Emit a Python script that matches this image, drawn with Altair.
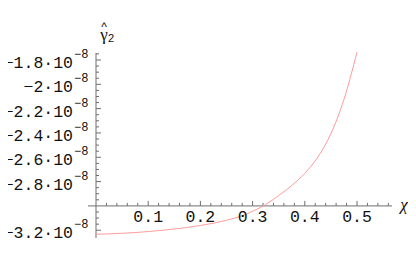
import altair as alt
import pandas as pd

# ---- data (gamma2 values in units of 1e-8) ----
CHI = [0.000, 0.025, 0.050, 0.075, 0.100, 0.125, 0.150, 0.175, 0.200, 0.225,
       0.250, 0.275, 0.300, 0.325, 0.350, 0.375, 0.400, 0.425, 0.450, 0.475, 0.500]
GAMMA2_E8 = [-3.233, -3.230, -3.225, -3.219, -3.211, -3.201, -3.190, -3.177, -3.161, -3.142,
             -3.118, -3.088, -3.045, -2.988, -2.915, -2.832, -2.732, -2.598, -2.405, -2.125, -1.735]

X_TICKS = [0.1, 0.2, 0.3, 0.4, 0.5]
X_TICK_LABELS = ["0.1", "0.2", "0.3", "0.4", "0.5"]
Y_TICKS_E8 = [-3.2, -2.8, -2.6, -2.4, -2.2, -2.0, -1.8]
Y_TICK_LABELS = ["−3.2·10", "−2.8·10", "−2.6·10", "−2.4·10", "−2.2·10", "−2·10", "−1.8·10"]
Y_EXPONENT = "−8"
X_MINOR = [round(0.02 * i, 2) for i in range(1, 29)]
Y_MINOR = [round(-3.2 + 0.05 * i, 2) for i in range(0, 30)]

X_CROSS = 0.0     # y axis at chi = 0
Y_CROSS = -3.0    # x axis at gamma2 = -3e-8

# ---- scales ----
PX_X = 522.0      # pixels per unit chi
PX_Y = 121.6      # pixels per 1e-8
W, H = 400, 241
X0_PIX = 88.0
Y18_PIX = 52.0
xdom = [-X0_PIX / PX_X, (W - X0_PIX) / PX_X]
ydom = [-1.8 - (H - Y18_PIX) / PX_Y, -1.8 + Y18_PIX / PX_Y]
xs = alt.Scale(domain=xdom, nice=False, zero=False)
ys = alt.Scale(domain=ydom, nice=False, zero=False)

AX = "#6e6e6e"
MONO = "Liberation Mono"

def X(f):
    return alt.X(f, type="quantitative", scale=xs, axis=None)

def Y(f):
    return alt.Y(f, type="quantitative", scale=ys, axis=None)

# curve
curve_df = pd.DataFrame({"chi": CHI, "g": GAMMA2_E8})
curve = alt.Chart(curve_df).mark_line(color="#ff9c9c", strokeWidth=1, interpolate="monotone").encode(
    x=X("chi"), y=Y("g"))

# axes lines
y_top = -1.8 + (Y18_PIX - 45) / PX_Y
y_bot = -1.8 - (230 - Y18_PIX) / PX_Y
x_left = -8 / PX_X
x_right = (384 - X0_PIX) / PX_X
axes_df = pd.DataFrame({
    "x1": [X_CROSS, x_left], "x2": [X_CROSS, x_right],
    "y1": [y_bot, Y_CROSS], "y2": [y_top, Y_CROSS]})
axes = alt.Chart(axes_df).mark_rule(color=AX, strokeWidth=1).encode(
    x=X("x1"), x2="x2", y=Y("y1"), y2="y2")

# ticks
rows = []
for v in Y_TICKS_E8:
    rows.append({"x1": X_CROSS, "x2": X_CROSS + 5 / PX_X, "y1": v, "y2": v})
for v in Y_MINOR:
    if all(abs(v - m) > 1e-6 for m in Y_TICKS_E8 + [Y_CROSS]):
        rows.append({"x1": X_CROSS, "x2": X_CROSS + 3 / PX_X, "y1": v, "y2": v})
for v in X_TICKS:
    rows.append({"x1": v, "x2": v, "y1": Y_CROSS, "y2": Y_CROSS + 5 / PX_Y})
for v in X_MINOR:
    if all(abs(v - m) > 1e-6 for m in X_TICKS):
        rows.append({"x1": v, "x2": v, "y1": Y_CROSS, "y2": Y_CROSS + 3 / PX_Y})
ticks = alt.Chart(pd.DataFrame(rows)).mark_rule(color=AX, strokeWidth=1).encode(
    x=X("x1"), x2="x2", y=Y("y1"), y2="y2")

# y tick labels
ylab_df = pd.DataFrame({"x": [X_CROSS] * len(Y_TICKS_E8), "y": Y_TICKS_E8,
                        "t": Y_TICK_LABELS, "e": [Y_EXPONENT] * len(Y_TICKS_E8)})
ylab = alt.Chart(ylab_df).mark_text(align="right", baseline="alphabetic", dx=-23, dy=8,
                                    font=MONO, fontSize=16.5, color="#111").encode(
    x=X("x"), y=Y("y"), text="t")
yexp = alt.Chart(ylab_df).mark_text(align="left", baseline="alphabetic", dx=-22, dy=-2,
                                    font=MONO, fontSize=12, color="#111").encode(
    x=X("x"), y=Y("y"), text="e")

# x tick labels
xlab_df = pd.DataFrame({"x": X_TICKS, "y": [Y_CROSS] * len(X_TICKS), "t": X_TICK_LABELS})
xlab = alt.Chart(xlab_df).mark_text(align="center", baseline="alphabetic", dy=16,
                                    font=MONO, fontSize=16.5, color="#111").encode(
    x=X("x"), y=Y("y"), text="t")

# axis titles
chi_df = pd.DataFrame({"x": [x_right], "y": [Y_CROSS], "t": ["χ"]})
chi_lab = alt.Chart(chi_df).mark_text(align="center", baseline="alphabetic", dx=12, dy=4,
                                      font="Liberation Serif", fontStyle="italic", fontSize=17,
                                      color="#111").encode(x=X("x"), y=Y("y"), text="t")
g_df = pd.DataFrame({"x": [X_CROSS], "y": [y_top]})
g_lab = alt.Chart(g_df).mark_text(align="center", baseline="alphabetic", dx=8, dy=-13,
                                  font="Liberation Serif", fontSize=17, color="#111").encode(
    x=X("x"), y=Y("y"), text=alt.value("γ"))
g_sub = alt.Chart(g_df).mark_text(align="center", baseline="alphabetic", dx=15, dy=-11,
                                  font="Liberation Sans", fontSize=11, color="#111").encode(
    x=X("x"), y=Y("y"), text=alt.value("2"))
g_hat = alt.Chart(g_df).mark_text(align="center", baseline="alphabetic", dx=8, dy=-22,
                                  font="Liberation Sans", fontSize=12, color="#111").encode(
    x=X("x"), y=Y("y"), text=alt.value("^"))

chart = alt.layer(axes, ticks, curve, ylab, yexp, xlab, chi_lab, g_lab, g_sub, g_hat).properties(
    width=W, height=H, autosize=alt.AutoSizeParams(type="none"), padding=0,
    background="white").configure_view(stroke=None)

chart.save("out.html", embed_options={"renderer": "svg", "actions": False})
